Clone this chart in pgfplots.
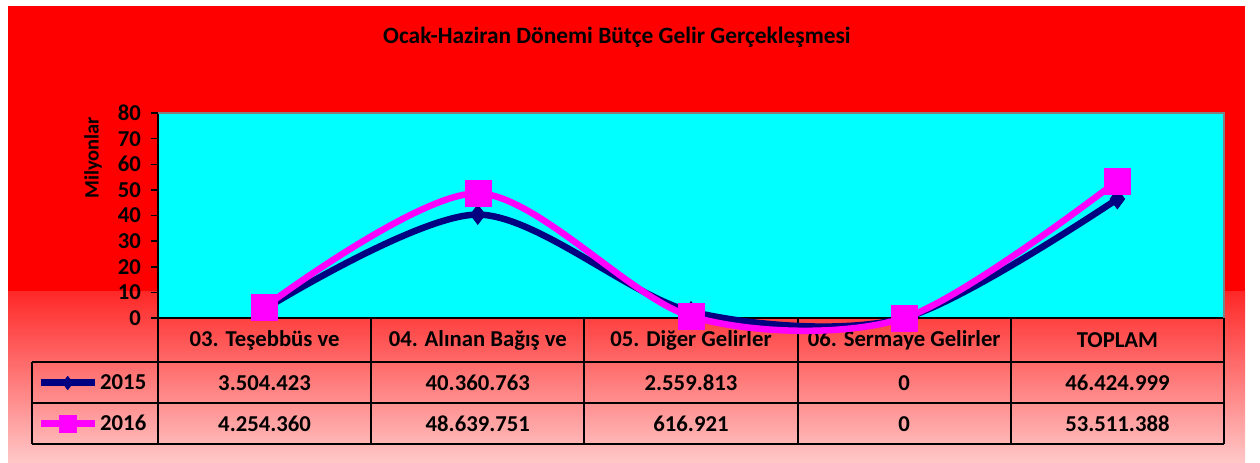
\documentclass[border=0pt]{standalone}
\usepackage{pgfplots}
\pgfplotsset{compat=1.18}
\usepackage{fontspec}
\setmainfont{Carlito}
\definecolor{navyline}{RGB}{0,0,128}
\definecolor{pinkline}{RGB}{255,0,255}
\definecolor{plotbg}{RGB}{0,255,255}
\definecolor{bgred}{RGB}{255,0,0}
\definecolor{bgtop}{RGB}{255,40,40}
\definecolor{bgbot}{RGB}{255,200,200}

\pgfplotstableread{
x v2015 v2016
0 3.504423 4.254360
1 40.360763 48.639751
2 2.559813 0.616921
3 0 0
4 46.424999 53.511388
}\gelir

\newcommand{\chartfont}{\bfseries\fontsize{22.8}{24}\selectfont}

\begin{document}
\begin{tikzpicture}[x=1bp,y=-1bp]
% chart area
\fill[white] (0,0) rectangle (1260,463);
\fill[bgred] (8,6) rectangle (1245,292);
\shade[top color=bgtop, bottom color=bgbot] (8,292) rectangle (1245,463);
\node[font=\bfseries\fontsize{23.5}{25}\selectfont] at (617,37) {Ocak-Haziran Dönemi Bütçe Gelir Gerçekleşmesi};
\node[font=\bfseries\fontsize{20.5}{22}\selectfont, rotate=90] at (93,158) {Milyonlar};

% data table under the axis
\begin{scope}[line width=2bp]
\draw (158,318) -- (158,444);
\foreach \c in {371.2,584.4,797.6,1010.8,1224} \draw (\c,318) -- (\c,444);
\draw (158,318) -- (1224,318);
\draw (32,362) -- (1224,362);
\draw (32,403) -- (1224,403);
\draw (32,444) -- (1224,444);
\draw (32,362) -- (32,444);
\end{scope}
\begin{scope}[every node/.style={font=\chartfont}]
\node at (264.6,340) {03. Teşebbüs ve};
\node at (477.8,340) {04. Alınan Bağış ve};
\node at (691.0,340) {05. Diğer Gelirler};
\node at (904.2,340) {06. Sermaye Gelirler};
\node at (1117.4,340) {TOPLAM};
\node at (264.6,383) {3.504.423};
\node at (477.8,383) {40.360.763};
\node at (691.0,383) {2.559.813};
\node at (904.2,383) {0};
\node at (1117.4,383) {46.424.999};
\node at (264.6,424) {4.254.360};
\node at (477.8,424) {48.639.751};
\node at (691.0,424) {616.921};
\node at (904.2,424) {0};
\node at (1117.4,424) {53.511.388};
\end{scope}

\begin{axis}[
    at={(158bp,-318bp)}, anchor=south west,
    scale only axis, width=1066bp, height=205bp,
    xmin=-0.5, xmax=4.5, ymin=0, ymax=80,
    ytick={0,10,...,80}, xtick=\empty,
    axis x line*=bottom, axis y line*=left,
    axis line style={black, line width=2bp},
    axis background/.style={fill=plotbg},
    tick align=outside, major tick length=7bp,
    ytick style={black, line width=1.5bp},
    yticklabel style={font=\chartfont, inner sep=1bp, xshift=-9bp},
    /pgf/number format/assume math mode=true,
    clip=false,
    legend style={at={(-0.1135,-0.417)}, anchor=west, draw=none, fill=none,
        font=\chartfont, row sep=20bp, inner sep=0pt,
        /tikz/every even column/.append style={column sep=7bp}},
    legend cell align=left,
    legend image code/.code={
        \draw[#1, mark=none, line width=7bp] (0bp,0bp) -- (54bp,0bp);
        \draw[#1, every mark/.append style={scale=0.68}] plot coordinates {(27bp,0bp)};
    },
]
\draw[gray, line width=1.5bp] (rel axis cs:0,1) -- (rel axis cs:1,1) -- (rel axis cs:1,0);
\addplot[navyline, line width=6.5bp, smooth, mark=diamond*, mark size=10bp,
    mark options={solid, fill=navyline, draw=navyline, line width=0.5bp}]
    table[x=x, y=v2015] {\gelir};
\addplot[pinkline, line width=6.5bp, smooth, mark=square*, mark size=13bp,
    mark options={solid, fill=pinkline, draw=pinkline, line width=0.5bp}]
    table[x=x, y=v2016] {\gelir};
\legend{2015, 2016}
\end{axis}
\end{tikzpicture}
\end{document}
